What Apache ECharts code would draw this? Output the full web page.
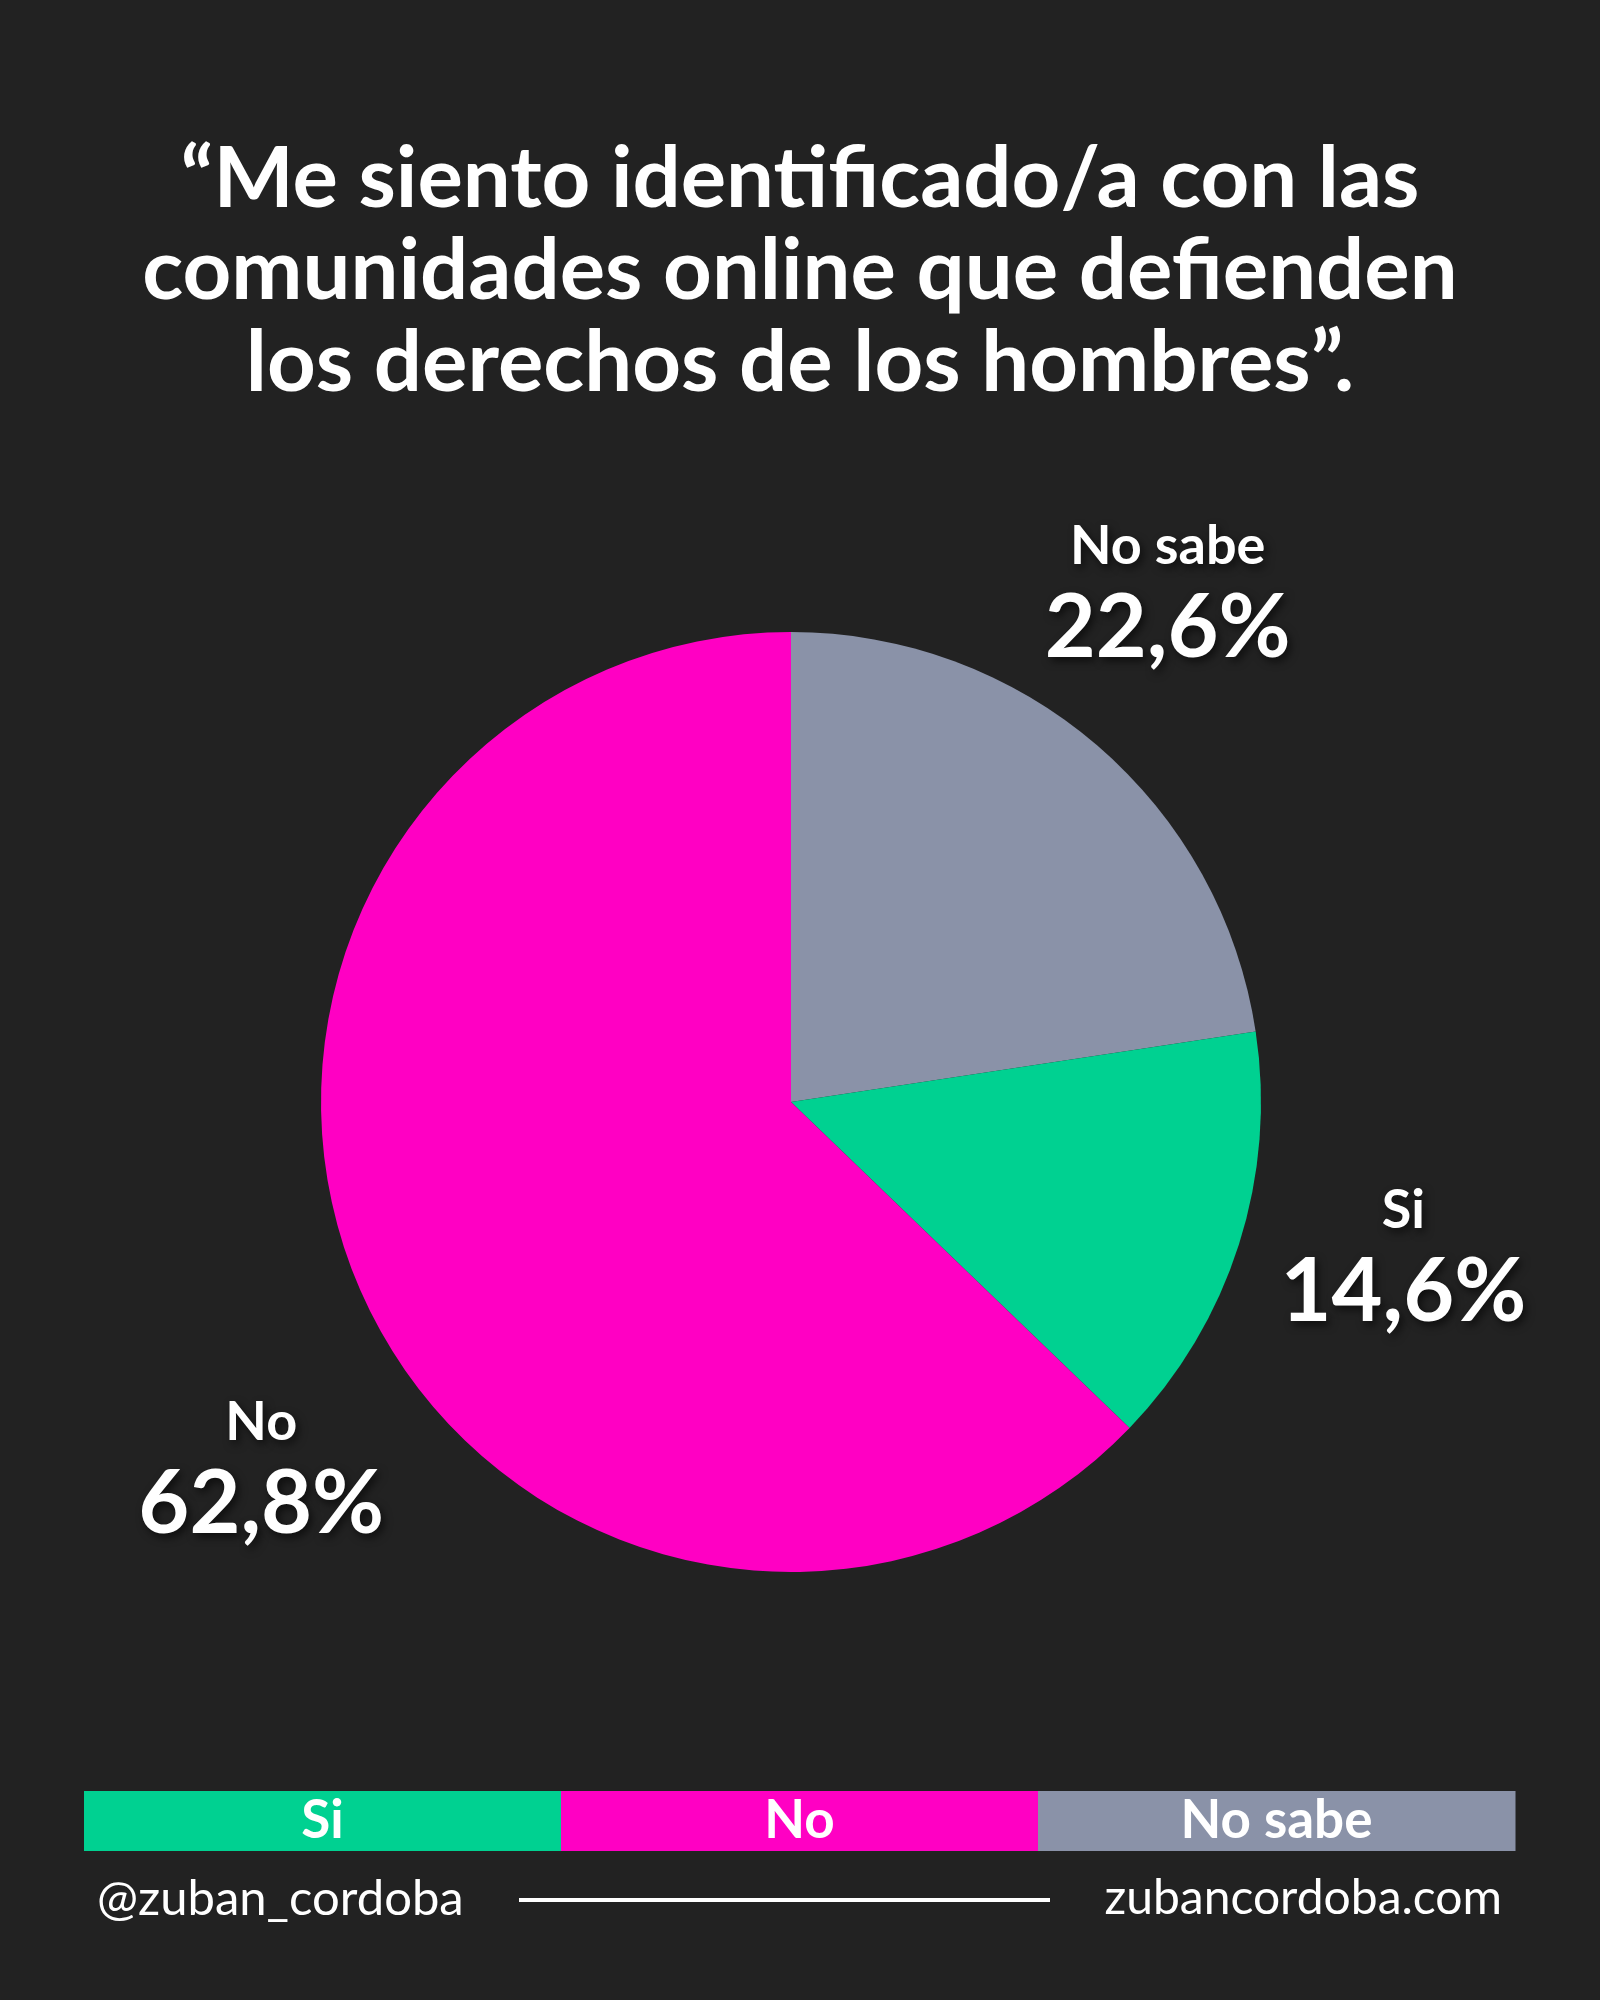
<!DOCTYPE html>
<html>
<head>
<meta charset="utf-8">
<script src="https://cdn.jsdelivr.net/npm/echarts@6/dist/echarts.min.js"></script>
<style>
  html, body { margin: 0; padding: 0; background: #222222; }
  #main { width: 1600px; height: 2000px; }
</style>
</head>
<body>
<div id="main"></div>
<script>
// datos de la encuesta (orden del gráfico, sentido horario desde arriba)
var sliceNames = ['No sabe', 'Si', 'No'];
var sliceValues = [22.6, 14.6, 62.8];
var sliceColors = ['#8A92A8', '#00D191', '#FF00C3'];

// orden de la barra de leyenda inferior
var legendNames = ['Si', 'No', 'No sabe'];
var legendColors = ['#00D191', '#FF00C3', '#8A92A8'];

var titleText = '“Me siento identificado/a con las\ncomunidades online que defienden\nlos derechos de los hombres”.';
var footerLeft = '@zuban_cordoba';
var footerRight = 'zubancordoba.com';

// pequeño ajuste de las etiquetas respecto a su posicion por defecto
var labelNudge = [[-34, -34], [12, -38], [50, 118]];

var FONT = 'Lato, "Open Sans", sans-serif';
var chart = echarts.init(document.getElementById('main'), null, { renderer: 'canvas' });

var textShadow = {
  shadowColor: 'rgba(0,0,0,0.55)',
  shadowBlur: 8,
  shadowOffsetX: 3,
  shadowOffsetY: 4
};

var graphics = [];
// titulo
graphics.push({
  type: 'text', x: 800, y: 272,
  style: {
    text: titleText, fill: '#ffffff',
    font: 'bold 85px ' + FONT, lineHeight: 92,
    align: 'center', verticalAlign: 'middle'
  }
});

// barra de leyenda hecha con graphic
var barLeft = 84, barTop = 1791, barWidth = 1431, barHeight = 60;
var segW = barWidth / legendNames.length;
legendNames.forEach(function (name, i) {
  graphics.push({
    type: 'rect',
    shape: { x: barLeft + i * segW, y: barTop, width: segW + 0.5, height: barHeight },
    style: { fill: legendColors[i] }
  });
  graphics.push({
    type: 'text',
    x: barLeft + i * segW + segW / 2,
    y: barTop + barHeight / 2,
    style: Object.assign({
      text: name,
      fill: '#ffffff',
      font: 'bold 53px ' + FONT,
      align: 'center',
      verticalAlign: 'middle'
    }, textShadow)
  });
});
graphics.push({
  type: 'text', x: 97, y: 1899,
  style: { text: footerLeft, fill: '#ffffff', font: '49px ' + FONT, align: 'left', verticalAlign: 'middle' }
});
graphics.push({
  type: 'text', x: 1502, y: 1899,
  style: { text: footerRight, fill: '#ffffff', font: '48px ' + FONT, align: 'right', verticalAlign: 'middle' }
});
graphics.push({
  type: 'line',
  shape: { x1: 519, y1: 1900, x2: 1050, y2: 1900 },
  style: { stroke: '#ffffff', lineWidth: 4 }
});

var option = {
  backgroundColor: '#222222',
  graphic: graphics,
  series: [
    {
      type: 'pie',
      center: [791, 1102],
      radius: [0, 470],
      startAngle: 90,
      clockwise: true,
      avoidLabelOverlap: false,
      silent: true,
      data: sliceNames.map(function (n, i) {
        return { name: n, value: sliceValues[i], itemStyle: { color: sliceColors[i] } };
      }),
      label: {
        show: true,
        position: 'outside',
        distanceToLabelLine: 0,
        formatter: function (p) {
          return '{n|' + p.name + '}\n{v|' + p.value.toFixed(1).replace('.', ',') + '%}';
        },
        textShadowColor: 'rgba(0,0,0,0.6)',
        textShadowBlur: 8,
        textShadowOffsetX: 3,
        textShadowOffsetY: 4,
        rich: {
          n: { color: '#ffffff', fontFamily: FONT, fontWeight: 'bold', fontSize: 54, lineHeight: 76, align: 'center' },
          v: { color: '#ffffff', fontFamily: FONT, fontWeight: 'bold', fontSize: 88, lineHeight: 88, align: 'center' }
        }
      },
      labelLine: { show: false, length: 160, length2: 0 },
      labelLayout: function (params) {
        var d = labelNudge[params.dataIndex];
        return { align: 'center', verticalAlign: 'middle', dx: d[0], dy: d[1] };
      }
    }
  ]
};

chart.setOption(option);
</script>
</body>
</html>
